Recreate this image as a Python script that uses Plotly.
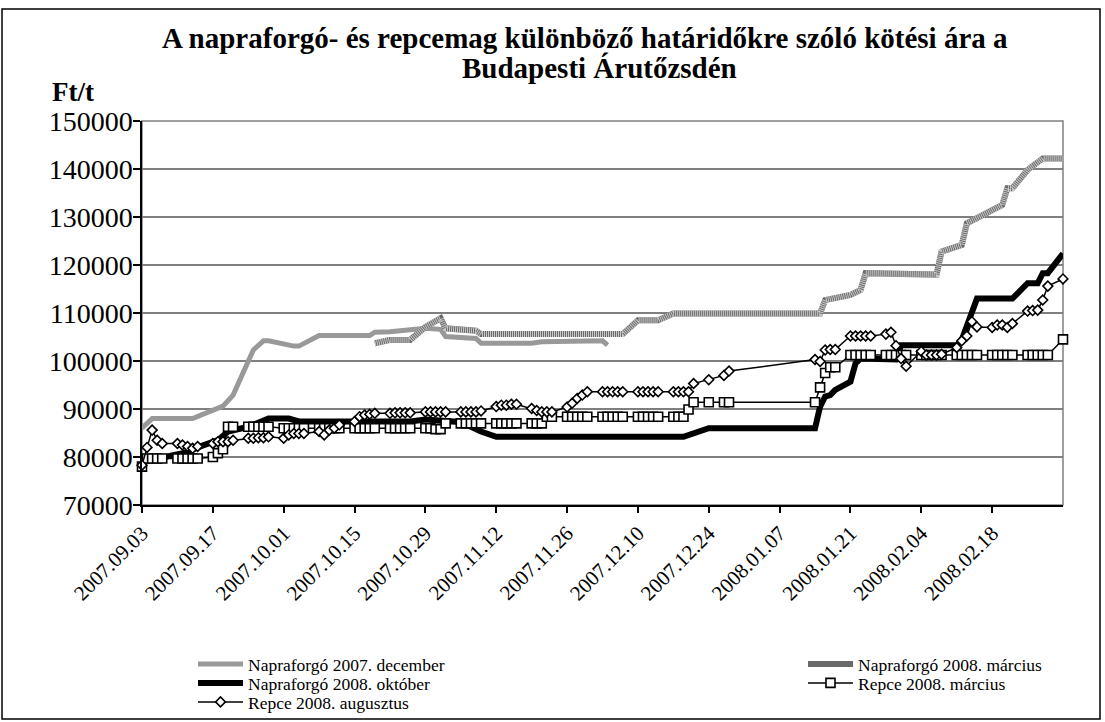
import plotly.graph_objects as go

# ---------------- data ----------------
tick_dates = ["2007-09-03", "2007-09-17", "2007-10-01", "2007-10-15", "2007-10-29",
              "2007-11-12", "2007-11-26", "2007-12-10", "2007-12-24", "2008-01-07",
              "2008-01-21", "2008-02-04", "2008-02-18"]
tick_text = ["2007.09.03", "2007.09.17", "2007.10.01", "2007.10.15", "2007.10.29",
             "2007.11.12", "2007.11.26", "2007.12.10", "2007.12.24", "2008.01.07",
             "2008.01.21", "2008.02.04", "2008.02.18"]

# Napraforgó 2007. december
dec_dates = ["2007-09-03", "2007-09-05", "2007-09-13", "2007-09-17", "2007-09-19", "2007-09-21",
             "2007-09-25", "2007-09-27", "2007-09-28", "2007-10-03", "2007-10-04", "2007-10-08",
             "2007-10-18", "2007-10-19", "2007-10-22", "2007-10-29", "2007-11-01", "2007-11-02",
             "2007-11-08", "2007-11-09", "2007-11-19", "2007-11-21", "2007-12-03", "2007-12-04"]
dec_vals = [86000, 88000, 88000, 89800, 90600, 92900,
            102300, 104200, 104200, 103100, 103100, 105300,
            105300, 106000, 106100, 106800, 106600, 105100,
            104700, 103700, 103700, 104000, 104200, 103300]

# Napraforgó 2008. március
marc_dates = ["2007-10-19", "2007-10-22", "2007-10-26", "2007-10-29", "2007-11-01", "2007-11-02",
              "2007-11-08", "2007-11-09", "2007-12-07", "2007-12-10", "2007-12-14", "2007-12-17",
              "2008-01-15", "2008-01-16", "2008-01-21", "2008-01-23", "2008-01-24", "2008-02-07",
              "2008-02-08", "2008-02-12", "2008-02-13", "2008-02-15", "2008-02-20", "2008-02-21",
              "2008-02-22", "2008-02-25", "2008-02-28", "2008-03-03"]
marc_vals = [103700, 104400, 104400, 107100, 108900, 106800,
             106300, 105600, 105600, 108500, 108500, 109900,
             109900, 112700, 113750, 114800, 118300, 118000,
             122800, 124200, 128700, 129700, 132500, 136000,
             136000, 139800, 142200, 142200]

# Napraforgó 2008. október
okt_dates = ["2007-09-03", "2007-09-07", "2007-09-12", "2007-09-14", "2007-09-18", "2007-09-20",
             "2007-09-24", "2007-09-28", "2007-10-02", "2007-10-04", "2007-10-26", "2007-10-29",
             "2007-11-05", "2007-11-09", "2007-11-12", "2007-12-19", "2007-12-21", "2007-12-24",
             "2008-01-14", "2008-01-15", "2008-01-16", "2008-01-17", "2008-01-18", "2008-01-21",
             "2008-01-22", "2008-01-23", "2008-01-30", "2008-01-31", "2008-02-11", "2008-02-12",
             "2008-02-15", "2008-02-22", "2008-02-25", "2008-02-27", "2008-02-28", "2008-02-29",
             "2008-03-03"]
okt_vals = [79000, 80000, 81000, 82000, 83500, 85300,
            86300, 88000, 88000, 87400, 87400, 87800,
            87300, 85300, 84200, 84200, 85000, 86000,
            86000, 90500, 92600, 92900, 94000, 95700,
            99500, 100500, 100300, 103300, 103300, 104400,
            113000, 113000, 116200, 116200, 118300, 118300,
            122400]

# trading days for the two Repce series
trade_days = [
    "2007-09-03", "2007-09-04", "2007-09-05", "2007-09-06", "2007-09-07",
    "2007-09-10", "2007-09-11", "2007-09-12", "2007-09-13", "2007-09-14",
    "2007-09-17", "2007-09-18", "2007-09-19", "2007-09-20", "2007-09-21",
    "2007-09-24", "2007-09-25", "2007-09-26", "2007-09-27", "2007-09-28",
    "2007-10-01", "2007-10-02", "2007-10-03", "2007-10-04", "2007-10-05",
    "2007-10-08", "2007-10-09", "2007-10-10", "2007-10-11", "2007-10-12",
    "2007-10-15", "2007-10-16", "2007-10-17", "2007-10-18", "2007-10-19",
    "2007-10-22", "2007-10-23", "2007-10-24", "2007-10-25", "2007-10-26",
    "2007-10-29", "2007-10-30", "2007-10-31", "2007-11-01", "2007-11-02",
    "2007-11-05", "2007-11-06", "2007-11-07", "2007-11-08", "2007-11-09",
    "2007-11-12", "2007-11-13", "2007-11-14", "2007-11-15", "2007-11-16",
    "2007-11-19", "2007-11-20", "2007-11-21", "2007-11-22", "2007-11-23",
    "2007-11-26", "2007-11-27", "2007-11-28", "2007-11-29", "2007-11-30",
    "2007-12-03", "2007-12-04", "2007-12-05", "2007-12-06", "2007-12-07",
    "2007-12-10", "2007-12-11", "2007-12-12", "2007-12-13", "2007-12-14",
    "2007-12-17", "2007-12-18", "2007-12-19", "2007-12-20", "2007-12-21",
    "2007-12-24", "2007-12-27", "2007-12-28",
    "2008-01-14", "2008-01-15", "2008-01-16", "2008-01-17", "2008-01-18",
    "2008-01-21", "2008-01-22", "2008-01-23", "2008-01-24", "2008-01-25",
    "2008-01-28", "2008-01-29", "2008-01-30", "2008-01-31", "2008-02-01",
    "2008-02-04", "2008-02-05", "2008-02-06", "2008-02-07", "2008-02-08",
    "2008-02-11", "2008-02-12", "2008-02-13", "2008-02-14", "2008-02-15",
    "2008-02-18", "2008-02-19", "2008-02-20", "2008-02-21", "2008-02-22",
    "2008-02-25", "2008-02-26", "2008-02-27", "2008-02-28", "2008-02-29",
    "2008-03-03"]

# Repce 2008. március
repce_marc = [
    78000, 79700, 79700, 79700, 79700,
    79700, 79700, 79700, 79700, 79700,
    80000, 80800, 81600, 86300, 86300,
    86300, 86300, 86300, 86300, 86300,
    86000, 86000, 86000, 86000, 86000,
    86000, 86000, 86000, 86000, 86000,
    86000, 86000, 86000, 86000, 86000,
    86000, 86000, 86000, 86000, 86000,
    86000, 86000, 85800, 85800, 87000,
    87000, 87000, 87000, 87000, 87000,
    87000, 87000, 87000, 87000, 87000,
    87000, 87000, 87000, 88400, 88400,
    88400, 88400, 88400, 88400, 88400,
    88400, 88400, 88400, 88400, 88400,
    88400, 88400, 88400, 88400, 88400,
    88400, 88400, 88400, 89900, 91400,
    91400, 91400, 91400,
    91400, 94500, 97500, 98700, 98700,
    101250, 101250, 101250, 101250, 101250,
    101250, 101250, 101250, 101250, 101250,
    101250, 101250, 101250, 101250, 101250,
    101250, 101250, 101250, 101250, 101250,
    101250, 101250, 101250, 101250, 101250,
    101250, 101250, 101250, 101250, 101250,
    104500]

# Repce 2008. augusztus
repce_aug = [
    78300, 82000, 85600, 83500, 82800,
    82800, 82500, 82200, 81800, 82200,
    82800, 83200, 83200, 83200, 83500,
    83900, 83900, 84000, 84000, 84200,
    83900, 84600, 84900, 84900, 84900,
    85300, 84600, 85600, 86000, 86700,
    87400, 88400, 88750, 88900, 89100,
    89100, 89200, 89200, 89200, 89200,
    89400, 89400, 89400, 89400, 89400,
    89400, 89400, 89400, 89400, 89600,
    90500, 90800, 90800, 91000, 91000,
    90100, 89700, 89400, 89400, 89400,
    90400, 91200, 92200, 92900, 93600,
    93600, 93600, 93600, 93600, 93600,
    93600, 93600, 93600, 93600, 93600,
    93600, 93600, 93600, 93600, 95300,
    96100, 97000, 97900,
    100300, 99900, 102300, 102400, 102400,
    105200, 105200, 105200, 105200, 105200,
    105600, 106000, 103200, 100500, 98900,
    102000, 101250, 101250, 101250, 101400,
    102800, 104200, 105200, 108200, 107100,
    107000, 107500, 107500, 107000, 107800,
    110400, 110500, 110600, 112700, 115600,
    117100]

# ---------------- figure ----------------
W, H = 1105, 722
L, R, T, B = 142, 42, 121, 217
PW, PH = W - L - R, H - T - B


def px(x):
    return (x - L) / PW


def py(y):
    return (H - B - y) / PH


SERIF = "Liberation Serif"
LEG_FONT = dict(size=17.5, family=SERIF, color="black")

fig = go.Figure()

fig.add_trace(go.Scatter(
    x=dec_dates, y=dec_vals, mode="lines", name="Napraforgó 2007. december",
    line=dict(color="#999999", width=5), legend="legend"))

fig.add_trace(go.Scatter(
    x=marc_dates, y=marc_vals, mode="lines", name="Napraforgó 2008. március",
    line=dict(color="#6a6a6a", width=6), legend="legend2"))
fig.add_trace(go.Scatter(
    x=marc_dates, y=marc_vals, mode="lines", name="Napraforgó 2008. március",
    line=dict(color="#cacaca", width=6, dash="1px,1px"), showlegend=False,
    legend="legend2", hoverinfo="skip"))

fig.add_trace(go.Scatter(
    x=okt_dates, y=okt_vals, mode="lines", name="Napraforgó 2008. október",
    line=dict(color="black", width=6), legend="legend3"))

fig.add_trace(go.Scatter(
    x=trade_days, y=repce_marc, mode="lines+markers", name="Repce 2008. március",
    line=dict(color="black", width=1.5),
    marker=dict(symbol="square", size=9, color="white", line=dict(color="black", width=1.6)),
    cliponaxis=False, legend="legend4"))

fig.add_trace(go.Scatter(
    x=trade_days, y=repce_aug, mode="lines+markers", name="Repce 2008. augusztus",
    line=dict(color="black", width=1.5),
    marker=dict(symbol="diamond", size=7.5, color="white", line=dict(color="black", width=1.6)),
    cliponaxis=False, legend="legend5"))


def leg(xpix, ypix):
    return dict(x=px(xpix), y=py(ypix), xanchor="left", yanchor="middle",
                orientation="v", font=LEG_FONT, bgcolor="rgba(0,0,0,0)",
                borderwidth=0, tracegroupgap=0, itemwidth=45)


fig.update_layout(
    width=W, height=H, autosize=False,
    margin=dict(l=L, r=R, t=T, b=B, pad=0, autoexpand=False),
    paper_bgcolor="white", plot_bgcolor="white",
    font=dict(family=SERIF, color="black"),
    xaxis=dict(
        type="date", range=["2007-09-03", "2008-03-03"],
        tickmode="array", tickvals=tick_dates, ticktext=tick_text,
        tickangle=-45, tickfont=dict(size=21, family=SERIF),
        showgrid=False, zeroline=False,
        showline=True, linecolor="black", linewidth=1.5,
        ticks="outside", ticklen=6, tickcolor="black", tickwidth=1.5),
    yaxis=dict(
        range=[70000, 150000], dtick=10000, tickformat="d",
        tickfont=dict(size=28, family=SERIF), ticklabelstandoff=-5,
        showgrid=True, gridcolor="#7f7f7f", gridwidth=1.5, zeroline=False,
        showline=True, linecolor="black", linewidth=1.5,
        ticks="outside", ticklen=7, tickcolor="black", tickwidth=1.5),
    legend=leg(193, 664),
    legend2=leg(803, 664),
    legend3=leg(193, 683),
    legend4=leg(803, 683),
    legend5=leg(193, 702),
    showlegend=True,
    shapes=[
        dict(type="rect", xref="paper", yref="paper", x0=0, x1=1, y0=0, y1=1,
             line=dict(color="#808080", width=1.5), layer="below"),
        dict(type="rect", xref="paper", yref="paper",
             x0=px(2), x1=px(1100), y0=py(719), y1=py(9),
             line=dict(color="black", width=1.5)),
    ],
    annotations=[
        dict(text="<b>A napraforgó- és repcemag különböző határidőkre szóló kötési ára a</b>",
             xref="paper", yref="paper", x=px(585), y=py(38), xanchor="center", yanchor="middle",
             showarrow=False, font=dict(size=29, family=SERIF)),
        dict(text="<b>Budapesti Árutőzsdén</b>",
             xref="paper", yref="paper", x=px(599), y=py(68), xanchor="center", yanchor="middle",
             showarrow=False, font=dict(size=29, family=SERIF)),
        dict(text="<b>Ft/t</b>",
             xref="paper", yref="paper", x=px(50), y=py(92), xanchor="left", yanchor="middle",
             showarrow=False, font=dict(size=27, family=SERIF)),
    ],
)

fig.write_html("out.html",
               config={"displayModeBar": False},
               post_script="document.body.style.margin='0px';"
                           "document.body.style.overflow='hidden';")
